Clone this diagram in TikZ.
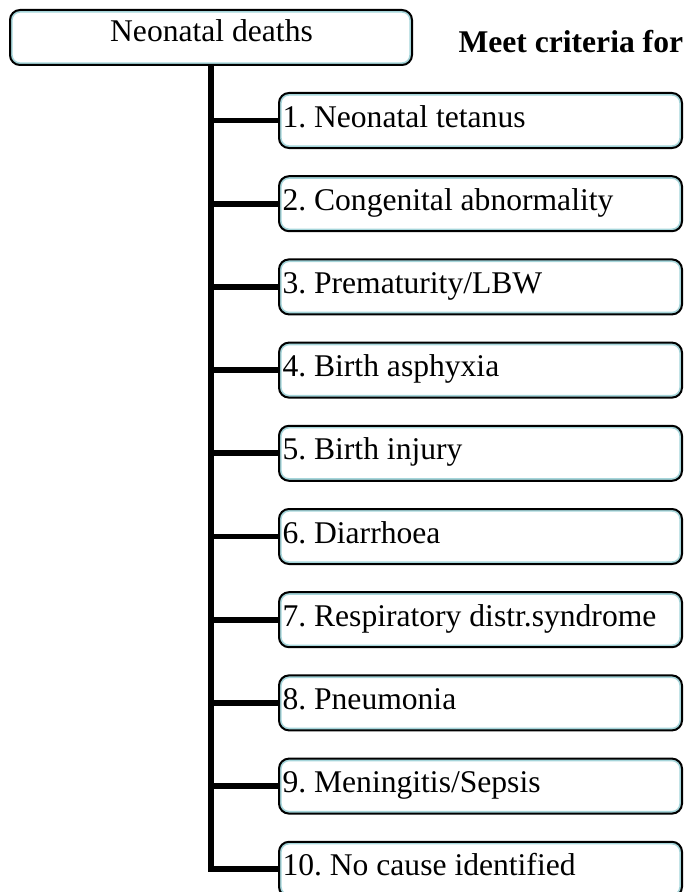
\documentclass[tikz,border=0pt]{standalone}
\usepackage{fontspec}
\setmainfont{Liberation Serif}
\frenchspacing
\definecolor{rimcyan}{RGB}{165,213,218}
\tikzset{every picture/.style={line width=0.75pt}}
\tikzset{
  causebox/.style={draw=black, line width=1.5pt, rounded corners=7.5pt, minimum width=302.25pt, minimum height=41.25pt, inner sep=0pt, outer sep=0pt,
    path picture={\draw [rimcyan, line width=4pt, rounded corners=7.5pt] (path picture bounding box.south west) rectangle (path picture bounding box.north east);}},
  causetext/.style={anchor=base west, inner sep=0.75pt, font=\fontsize{23.7}{28}\selectfont},
  trunk/.style={line width=4.3pt},
}

\begin{document}
\begin{tikzpicture}[x=0.75pt,y=0.75pt,yscale=-1,xscale=1]
\useasboundingbox (0,0) rectangle (688,892);

%Rounded Rect [top]
\node [causebox, minimum width=301.5pt] (deaths) at (211,37.5) {};
% Text Node
\node [anchor=base, font=\fontsize{23.7}{28}\selectfont, inner sep=0.75pt] (deathstext) at (211.5,42) {Neonatal deaths};
% Text Node
\node [causetext, font=\fontsize{23.7}{28}\selectfont\bfseries] (criteria) at (457,53) {Meet criteria for};

%Rounded Rect [causes]
\node [causebox] (c1) at (480.5,120.5) {};
\node [causebox] (c2) at (480.5,203.7) {};
\node [causebox] (c3) at (480.5,286.9) {};
\node [causebox] (c4) at (480.5,370.1) {};
\node [causebox] (c5) at (480.5,453.3) {};
\node [causebox] (c6) at (480.5,536.5) {};
\node [causebox] (c7) at (480.5,619.7) {};
\node [causebox] (c8) at (480.5,702.9) {};
\node [causebox] (c9) at (480.5,786.1) {};
\node [causebox] (c10) at (480.5,869.3) {};

% Text Node
\node [causetext] (t1) at ([xshift=1.5pt,yshift=4.9pt]c1.west) {1. Neonatal tetanus};
\node [causetext] (t2) at ([xshift=1.5pt,yshift=4.9pt]c2.west) {2. Congenital abnormality};
\node [causetext] (t3) at ([xshift=1.5pt,yshift=4.9pt]c3.west) {3. Prematurity/LBW};
\node [causetext] (t4) at ([xshift=1.5pt,yshift=4.9pt]c4.west) {4. Birth asphyxia};
\node [causetext] (t5) at ([xshift=1.5pt,yshift=4.9pt]c5.west) {5. Birth injury};
\node [causetext] (t6) at ([xshift=1.5pt,yshift=4.9pt]c6.west) {6. Diarrhoea};
\node [causetext] (t7) at ([xshift=1.5pt,yshift=4.9pt]c7.west) {7. Respiratory distr.syndrome};
\node [causetext] (t8) at ([xshift=1.5pt,yshift=4.9pt]c8.west) {8. Pneumonia};
\node [causetext] (t9) at ([xshift=1.5pt,yshift=4.9pt]c9.west) {9. Meningitis/Sepsis};
\node [causetext] (t10) at ([xshift=1.5pt,yshift=4.9pt]c10.west) {10. No cause identified};

%Straight Lines [trunk]
\draw [trunk] (deaths.south) |- (c10.west);
\draw [trunk] (deaths.south |- c1.west) -- (c1.west);
\draw [trunk] (deaths.south |- c2.west) -- (c2.west);
\draw [trunk] (deaths.south |- c3.west) -- (c3.west);
\draw [trunk] (deaths.south |- c4.west) -- (c4.west);
\draw [trunk] (deaths.south |- c5.west) -- (c5.west);
\draw [trunk] (deaths.south |- c6.west) -- (c6.west);
\draw [trunk] (deaths.south |- c7.west) -- (c7.west);
\draw [trunk] (deaths.south |- c8.west) -- (c8.west);
\draw [trunk] (deaths.south |- c9.west) -- (c9.west);

\end{tikzpicture}
\end{document}
